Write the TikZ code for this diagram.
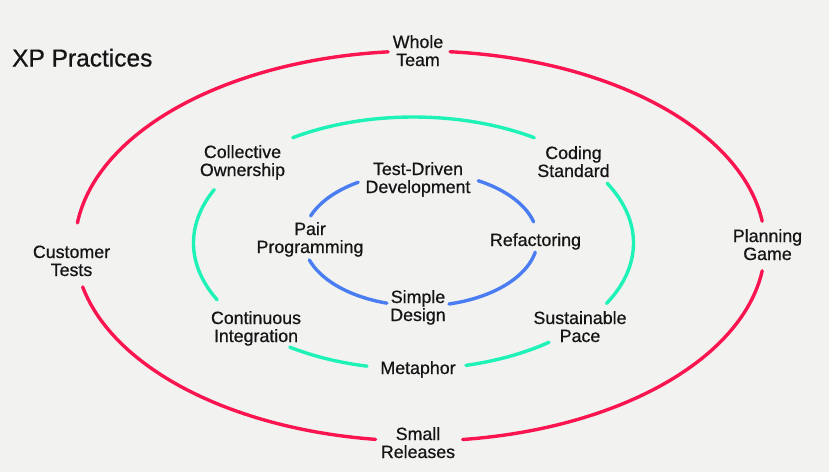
\documentclass[tikz,border=0pt]{standalone}
\usepackage{fontspec}
\setmainfont{Liberation Sans}
\newfontfamily\lblfont{Liberation Sans}[FakeBold=0.7]
\definecolor{bg}{HTML}{F2F2F1}
\definecolor{xpred}{HTML}{FA1450}
\definecolor{xpgreen}{HTML}{1EF2B6}
\definecolor{xpblue}{HTML}{4A7DF2}
\definecolor{ink}{HTML}{151515}
\begin{document}
\begin{tikzpicture}[x=1pt,y=-1pt,
  lbl/.style={align=center,inner sep=0pt,anchor=base,text=ink,
    font=\lblfont\fontsize{17.8}{18}\selectfont},
  ring/.style={line width=3.4pt,line cap=round},
  outer/.style={ring,xpred},
  middle/.style={ring,xpgreen},
  inner/.style={ring,xpblue}]
\fill[bg] (0,0) rectangle (829,472);
\useasboundingbox (0,0) rectangle (829,472);
\node[anchor=base west,inner sep=0pt,text=ink,font=\lblfont\fontsize{24.5}{28}\selectfont] (title) at (12,66.5) {XP Practices};
% labels (anchor = baseline of last line)
\node[lbl] (whole) at (418,66) {Whole\\Team};
\node[lbl] (cust) at (71.5,276) {Customer\\Tests};
\node[lbl] (plan) at (767.5,260) {Planning\\Game};
\node[lbl] (small) at (418,458) {Small\\Releases};
\node[lbl] (coll) at (242.5,176) {Collective\\Ownership};
\node[lbl] (code) at (573.5,177) {Coding\\Standard};
\node[lbl] (tdd) at (418,193) {Test-Driven\\Development};
\node[lbl] (pair) at (310,253) {Pair\\Programming};
\node[lbl] (refac) at (535.5,246) {Refactoring};
\node[lbl] (simple) at (418,321) {Simple\\Design};
\node[lbl] (ci) at (256,342) {Continuous\\Integration};
\node[lbl] (pace) at (580,342) {Sustainable\\Pace};
\node[lbl] (meta) at (418,374) {Metaphor};
% outer ring
\def\rarc#1#2{\draw[outer] plot[domain=#1:#2,samples=80,variable=\t] ({420+345*cos(\t)},{246+195*sin(\t)});}
\rarc{-173.2}{-95.3}
\rarc{97.4}{167.9}
\rarc{7.3}{82.9}
\rarc{-85}{-7.3}
% middle ring
\def\garc#1#2{\draw[middle] plot[domain=#1:#2,samples=60,variable=\t] ({413.5+220*cos(\t)},{243+126*sin(\t)});}
\garc{-123.3}{-56.7}
\garc{153.2}{205.1}
\garc{-28.3}{28.7}
\garc{102.2}{124.2}
\garc{52}{76.2}
% inner ring
\def\barc#1#2{\draw[inner] plot[domain=#1:#2,samples=50,variable=\t] ({420.5+117*cos(\t)},{239+67*sin(\t)});}
\barc{-159.9}{-122.2}
\barc{-60.4}{-14.8}
\barc{11.3}{75.9}
\barc{106.7}{161.8}
\end{tikzpicture}
\end{document}
